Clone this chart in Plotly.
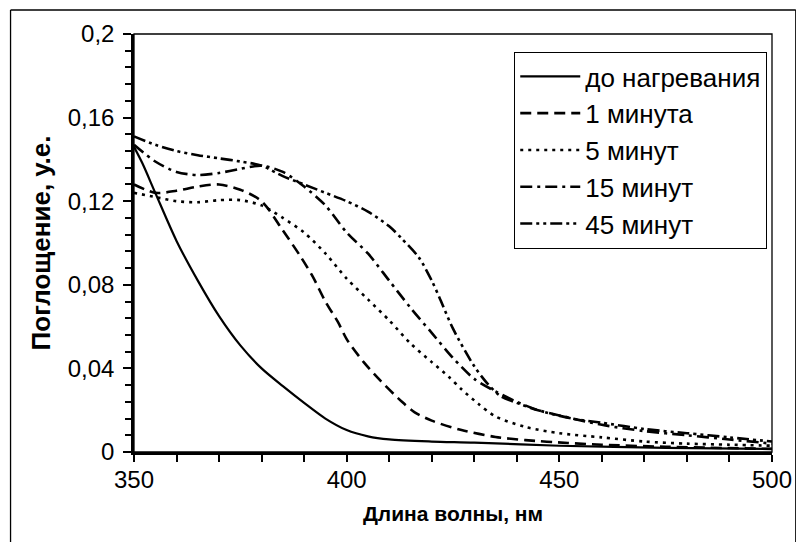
import plotly.graph_objects as go

# ---- data ----
wl_0 = [350, 352, 355, 360, 365, 370, 375, 380, 385, 390, 395, 400, 405, 410, 420, 430, 450, 475, 500]
ab_0 = [0.146, 0.138, 0.124, 0.101, 0.082, 0.065, 0.051, 0.040, 0.0315, 0.0235, 0.016, 0.0105, 0.0075,
        0.006, 0.005, 0.0045, 0.003, 0.002, 0.0015]

wl_1 = [350, 355, 360, 365, 370, 375, 380, 385, 389, 392, 395, 398, 400, 404, 408, 413, 416, 420,
        427, 435, 442, 452, 460, 475, 500]
ab_1 = [0.128, 0.124, 0.125, 0.127, 0.128, 0.1255, 0.120, 0.106, 0.094, 0.084, 0.072, 0.062, 0.054,
        0.043, 0.034, 0.024, 0.019, 0.015, 0.0105, 0.0072, 0.0057, 0.0043, 0.0035, 0.0025, 0.0015]

wl_5 = [350, 355, 360, 365, 370, 375, 380, 385, 390, 395, 400, 405, 410, 415, 420, 424, 427, 431,
        435, 442, 450, 460, 470, 480, 490, 500]
ab_5 = [0.124, 0.122, 0.120, 0.1195, 0.1205, 0.1205, 0.118, 0.112, 0.105, 0.095, 0.083, 0.073, 0.063,
        0.052, 0.043, 0.036, 0.030, 0.023, 0.017, 0.012, 0.009, 0.007, 0.005, 0.004, 0.0035, 0.003]

wl_15 = [350, 355, 360, 365, 370, 375, 380, 385, 390, 395, 400, 405, 410, 415, 420, 425, 430, 435,
         440, 445, 450, 460, 470, 480, 490, 500]
ab_15 = [0.147, 0.139, 0.134, 0.1325, 0.1335, 0.1355, 0.137, 0.134, 0.127, 0.118, 0.105, 0.095, 0.082,
         0.069, 0.057, 0.045, 0.035, 0.029, 0.024, 0.020, 0.0175, 0.013, 0.010, 0.008, 0.006, 0.004]

wl_45 = [350, 355, 360, 365, 370, 375, 380, 385, 390, 395, 400, 405, 410, 413, 417, 420, 422, 425,
         430, 433, 436, 440, 445, 453, 460, 470, 480, 490, 500]
ab_45 = [0.151, 0.147, 0.144, 0.142, 0.1405, 0.139, 0.137, 0.132, 0.128, 0.124, 0.120, 0.115, 0.108,
         0.102, 0.093, 0.082, 0.073, 0.059, 0.041, 0.033, 0.027, 0.0235, 0.020, 0.016, 0.014, 0.011,
         0.009, 0.007, 0.005]

names = ["до нагревания", "1 минута", "5 минут", "15 минут", "45 минут"]
y_tickvals = [0, 0.04, 0.08, 0.12, 0.16, 0.2]
y_ticktext = ["0", "0,04", "0,08", "0,12", "0,16", "0,2"]
x_tickvals = [350, 400, 450, 500]

series = [(wl_0, ab_0), (wl_1, ab_1), (wl_5, ab_5), (wl_15, ab_15), (wl_45, ab_45)]
dashes = ["solid", "11px,6px", "3px,5px", "12px,5px,3px,5px", "12px,4px,3px,4px,3px,4px"]
widths = [2.2, 2.6, 2.6, 2.6, 2.6]

FONT = "Liberation Sans, Arial, sans-serif"

fig = go.Figure()
for i, ((x, y), nm) in enumerate(zip(series, names)):
    fig.add_trace(go.Scatter(
        x=x, y=y, mode="lines", name=nm, legendgroup=str(i),
        line=dict(color="black", width=widths[i], dash=dashes[i], shape="spline", smoothing=0.8),
    ))

# the page body adds an 8px offset, so the figure is 8px smaller and margins shifted
fig.update_layout(
    width=796, height=534,
    margin=dict(l=126, r=27, t=26, b=90),
    paper_bgcolor="white", plot_bgcolor="white",
    font=dict(family=FONT, color="black", size=24),
    showlegend=True,
    legend=dict(
        x=0.596, y=0.957, xanchor="left", yanchor="top",
        bgcolor="white", bordercolor="black", borderwidth=1,
        font=dict(family=FONT, size=26, color="black"),
        tracegroupgap=0, itemwidth=60,
    ),
    xaxis=dict(
        range=[350, 500], tickmode="array", tickvals=x_tickvals,
        ticks="outside", ticklen=7, tickwidth=2, tickcolor="black",
        showline=True, linecolor="black", linewidth=2.5, showgrid=False, zeroline=False,
        minor=dict(dtick=10, tick0=350, ticks="outside", ticklen=7, tickwidth=2, tickcolor="black"),
        tickfont=dict(family=FONT, size=24), ticklabelstandoff=-3,
        title=dict(text="<b>Длина волны, нм</b>", font=dict(family=FONT, size=21), standoff=15),
    ),
    yaxis=dict(
        range=[0, 0.2], tickmode="array", tickvals=y_tickvals, ticktext=y_ticktext,
        ticks="outside", ticklen=8, tickwidth=2, tickcolor="black",
        showline=True, linecolor="black", linewidth=2.5, showgrid=False, zeroline=False,
        minor=dict(dtick=0.008, tick0=0, ticks="outside", ticklen=6, tickwidth=2, tickcolor="black"),
        tickfont=dict(family=FONT, size=24), ticklabelstandoff=4,
        title=dict(text="<b>Поглощение, у.е.</b>", font=dict(family=FONT, size=26), standoff=10),
    ),
    shapes=[
        # plot frame
        dict(type="rect", xref="paper", yref="paper", x0=0, y0=0, x1=1, y1=1,
             line=dict(color="black", width=1.3)),
        # outer figure border
        dict(type="line", xref="paper", yref="paper", x0=-0.1935, x1=-0.1935, y0=1.0574, y1=-0.3,
             line=dict(color="black", width=1.3)),
        dict(type="line", xref="paper", yref="paper", x0=-0.1935, x1=1.0373, y0=1.0574, y1=1.0574,
             line=dict(color="black", width=1.3)),
        dict(type="line", xref="paper", yref="paper", x0=1.0373, x1=1.0373, y0=1.0574, y1=-0.3,
             line=dict(color="black", width=1.3)),
    ],
)

fig.write_html("out.html")
